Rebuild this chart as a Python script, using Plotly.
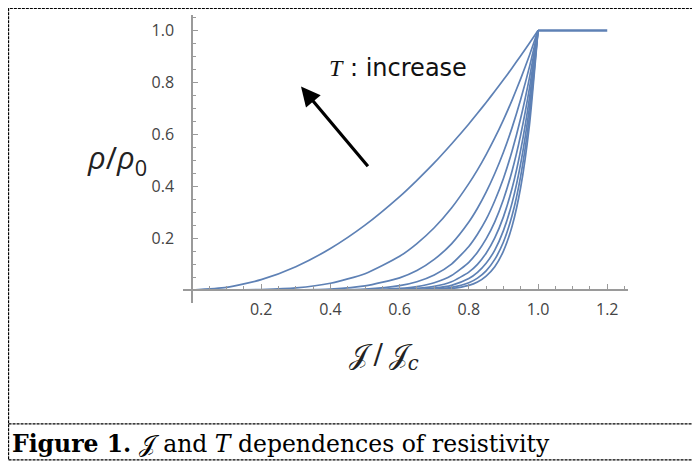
import plotly.graph_objects as go

# J/Jc sample positions
j_ratio = [0, 0.1, 0.2, 0.3, 0.4, 0.5, 0.6, 0.65, 0.7, 0.75, 0.8, 0.825, 0.85,
           0.875, 0.9, 0.925, 0.95, 0.975, 1.0]

# rho/rho0, one list per temperature (highest T first)
rho_t1 = [0, 0.010, 0.040, 0.090, 0.160, 0.250, 0.360, 0.423, 0.490, 0.563, 0.640, 0.681, 0.723, 0.766, 0.810, 0.856, 0.903, 0.951, 1.0]
rho_t2 = [0, 0.000, 0.002, 0.008, 0.026, 0.063, 0.130, 0.179, 0.240, 0.316, 0.410, 0.463, 0.522, 0.586, 0.656, 0.732, 0.815, 0.904, 1.0]
rho_t3 = [0, 0.000, 0.000, 0.001, 0.004, 0.016, 0.047, 0.075, 0.118, 0.178, 0.262, 0.315, 0.377, 0.449, 0.531, 0.626, 0.735, 0.859, 1.0]
rho_t4 = [0, 0.000, 0.000, 0.000, 0.001, 0.004, 0.017, 0.032, 0.058, 0.100, 0.168, 0.215, 0.272, 0.344, 0.430, 0.536, 0.663, 0.817, 1.0]
rho_t5 = [0, 0.000, 0.000, 0.000, 0.000, 0.001, 0.006, 0.013, 0.028, 0.056, 0.107, 0.146, 0.197, 0.263, 0.349, 0.459, 0.599, 0.776, 1.0]
rho_t6 = [0, 0.000, 0.000, 0.000, 0.000, 0.000, 0.002, 0.006, 0.014, 0.032, 0.069, 0.099, 0.142, 0.201, 0.282, 0.392, 0.540, 0.738, 1.0]
rho_t7 = [0, 0.000, 0.000, 0.000, 0.000, 0.000, 0.001, 0.002, 0.007, 0.018, 0.044, 0.068, 0.103, 0.154, 0.229, 0.336, 0.488, 0.702, 1.0]
rho_t8 = [0, 0.000, 0.000, 0.000, 0.000, 0.000, 0.000, 0.001, 0.003, 0.010, 0.028, 0.046, 0.074, 0.118, 0.185, 0.287, 0.440, 0.667, 1.0]
rho_t9 = [0, 0.000, 0.000, 0.000, 0.000, 0.000, 0.000, 0.000, 0.002, 0.006, 0.018, 0.031, 0.054, 0.090, 0.150, 0.246, 0.397, 0.634, 1.0]
curves = [rho_t1, rho_t2, rho_t3, rho_t4, rho_t5, rho_t6, rho_t7, rho_t8, rho_t9]

# normal state above Jc
plateau_x = [1.0, 1.2]
plateau_y = [1.0, 1.0]

x_tick_vals = [0.2, 0.4, 0.6, 0.8, 1.0, 1.2]
x_tick_text = ["0.2", "0.4", "0.6", "0.8", "1.0", "1.2"]
y_tick_vals = [0.2, 0.4, 0.6, 0.8, 1.0]
y_tick_text = ["0.2", "0.4", "0.6", "0.8", "1.0"]

LINE = "#5E81B5"
AXIS = "#9a9a9a"
TICKFONT = dict(family="Open Sans", size=16, color="#444444")

fig = go.Figure()
for c in curves:
    fig.add_trace(go.Scatter(x=j_ratio, y=c, mode="lines",
                             line=dict(color=LINE, width=1.7, shape="spline", smoothing=0.6),
                             showlegend=False, hoverinfo="skip"))
fig.add_trace(go.Scatter(x=plateau_x, y=plateau_y, mode="lines",
                         line=dict(color=LINE, width=2.4), showlegend=False, hoverinfo="skip"))

xr = [-0.026, 1.26]
yr = [-0.05, 1.06]
xpos = (0 - xr[0]) / (xr[1] - xr[0])
ypos = (0 - yr[0]) / (yr[1] - yr[0])

fig.update_layout(
    width=692, height=456,
    margin=dict(l=175, r=72, t=7, b=161),
    paper_bgcolor="white", plot_bgcolor="white",
    xaxis=dict(range=xr, anchor="free", position=ypos, showgrid=False, zeroline=False,
               showline=True, linecolor=AXIS, linewidth=1.5,
               tickvals=x_tick_vals, ticktext=x_tick_text, ticks="inside", ticklen=5,
               tickcolor=AXIS, tickfont=TICKFONT, ticklabelstandoff=5,
               minor=dict(dtick=0.05, tick0=0, ticks="inside", ticklen=3, tickcolor=AXIS, showgrid=False)),
    yaxis=dict(range=yr, anchor="free", position=xpos, showgrid=False, zeroline=False,
               showline=True, linecolor=AXIS, linewidth=1.5,
               tickvals=y_tick_vals, ticktext=y_tick_text, ticks="inside", ticklen=5,
               tickcolor=AXIS, tickfont=TICKFONT, ticklabelstandoff=14,
               minor=dict(dtick=0.05, tick0=0, ticks="inside", ticklen=3, tickcolor=AXIS, showgrid=False)),
)

# arrow "T : increase"
fig.add_annotation(x=0.315, y=0.784, ax=0.512, ay=0.471, xref="x", yref="y", axref="x", ayref="y",
                   text="", showarrow=True, arrowhead=2, arrowsize=1.2, arrowwidth=3.2, arrowcolor="black")
fig.add_annotation(x=0.39, y=0.857, xref="x", yref="y", xanchor="left", yanchor="middle", showarrow=False,
                   text="<span style='font-family:Liberation Serif'><i>T</i></span> : increase",
                   font=dict(family="DejaVu Sans", size=24, color="#111111"))

# axis titles (paper coordinates)
fig.add_annotation(x=-0.148, y=0.50, xref="paper", yref="paper", xanchor="center", yanchor="middle",
                   showarrow=False,
                   text="<i>ρ</i>/<i>ρ</i><sub>0</sub>", font=dict(family="Open Sans", size=31, color="#222222"))
fig.add_annotation(x=0.452, y=-0.185, xref="paper", yref="paper", xanchor="center", yanchor="middle",
                   showarrow=False,
                   text="𝒥\u2009/\u2009𝒥<sub><i>c</i></sub>", font=dict(family="DejaVu Serif", size=28, color="#222222"))

# caption
fig.add_annotation(x=-0.389, y=-0.49, xref="paper", yref="paper", xanchor="left", yanchor="middle",
                   showarrow=False,
                   text="<b>Figure 1.</b> 𝒥 and <i>T</i> dependences of resistivity",
                   font=dict(family="DejaVu Serif", size=23.5, color="black"))

# dashed frame and divider
fig.add_shape(type="rect", xref="paper", yref="paper", x0=-0.392, x1=1.155, y0=-0.545, y1=1.0226,
              line=dict(color="black", width=1.2, dash="3px,1px"))
fig.add_shape(type="line", xref="paper", yref="paper", x0=-0.392, x1=1.155, y0=-0.420, y1=-0.420,
              line=dict(color="black", width=1.2, dash="3px,1px"))

fig.write_html("out.html")
